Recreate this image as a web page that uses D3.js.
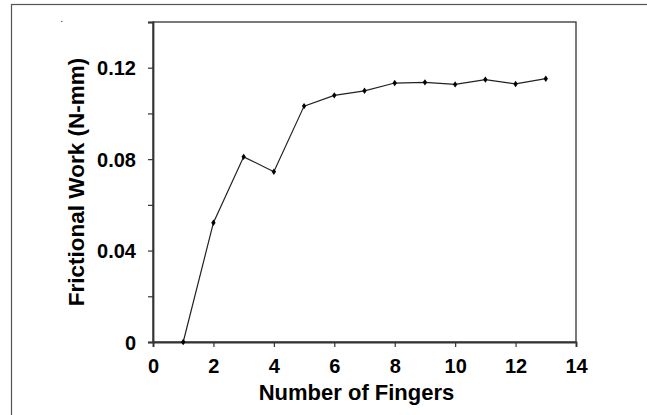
<!DOCTYPE html>
<html><head><meta charset="utf-8">
<script src="https://cdn.jsdelivr.net/npm/d3@7"></script>
<style>html,body{margin:0;padding:0;background:#fff;}svg{display:block;}</style>
</head><body>
<svg id="c" width="647" height="415"></svg>
<script>
const fingers = [1,2,3,4,5,6,7,8,9,10,11,12,13];
const work = [0.000,0.0522,0.0810,0.0745,0.1032,0.1079,0.1099,0.1133,0.1136,0.1127,0.1148,0.1129,0.1152];
const xTicks = [0,2,4,6,8,10,12,14];
const yTicks = [0,0.02,0.04,0.06,0.08,0.10,0.12,0.14];
const yLabelTicks = [0,0.04,0.08,0.12];
const xTitle = "Number of Fingers";
const yTitle = "Frictional Work (N-mm)";

const svg = d3.select("#c");
const m = {l:153, t:22, r:576, b:342};
const x = d3.scaleLinear().domain([0,14]).range([m.l,m.r]);
const y = d3.scaleLinear().domain([0,0.14]).range([m.b,m.t]);
const font = "'Liberation Sans', Arial, sans-serif";

// outer frame
svg.append("rect").attr("x",11.5).attr("y",4.5).attr("width",700).attr("height",500)
  .attr("fill","none").attr("stroke","#555").attr("stroke-width",1.2);
svg.append("rect").attr("x",61).attr("y",21).attr("width",1.5).attr("height",1).attr("fill","#666");

// plot box
svg.append("rect").attr("x",m.l).attr("y",m.t).attr("width",m.r-m.l).attr("height",m.b-m.t)
  .attr("fill","none").attr("stroke","#333").attr("stroke-width",1.3);

const xa = svg.append("g").attr("transform",`translate(0,${m.b})`)
  .call(d3.axisBottom(x).tickValues(xTicks).tickSize(5).tickPadding(12).tickFormat(d3.format("d")));
const ya = svg.append("g").attr("transform",`translate(${m.l},0)`)
  .call(d3.axisLeft(y).tickValues(yTicks).tickSize(5).tickPadding(12)
    .tickFormat(d => yLabelTicks.some(v=>Math.abs(v-d)<1e-9) ? (d===0?"0":d3.format(".2f")(d)) : ""));
[xa,ya].forEach(a=>{
  a.select(".domain").attr("stroke","#333").attr("stroke-width",1.8);
  a.selectAll(".tick line").attr("stroke","#333").attr("stroke-width",1.2);
  a.selectAll("text").attr("font-family",font).attr("font-weight","bold").attr("font-size","20px").attr("fill","#000");
});
ya.selectAll("text").attr("dy","0.35em");

// line
svg.append("path").datum(fingers.map((f,i)=>[f,work[i]]))
  .attr("fill","none").attr("stroke","#222").attr("stroke-width",1.2)
  .attr("d", d3.line().x(d=>x(d[0])).y(d=>y(d[1])));
svg.selectAll(".pt").data(fingers.map((f,i)=>[f,work[i]])).enter().append("path")
  .attr("d", d=>{const cx=x(d[0]), cy=y(d[1]); return `M${cx},${cy-3.2}L${cx+2.2},${cy}L${cx},${cy+3.2}L${cx-2.2},${cy}Z`;})
  .attr("fill","#000");

// titles
svg.append("text").attr("x",(m.l+m.r)/2-8).attr("y",399.5).attr("text-anchor","middle")
  .attr("font-family",font).attr("font-weight","bold").attr("font-size","22px").text(xTitle);
svg.append("text").attr("transform",`translate(84,${(m.t+m.b)/2}) rotate(-90)`).attr("text-anchor","middle")
  .attr("font-family",font).attr("font-weight","bold").attr("font-size","22.5px").text(yTitle);
</script>
</body></html>
